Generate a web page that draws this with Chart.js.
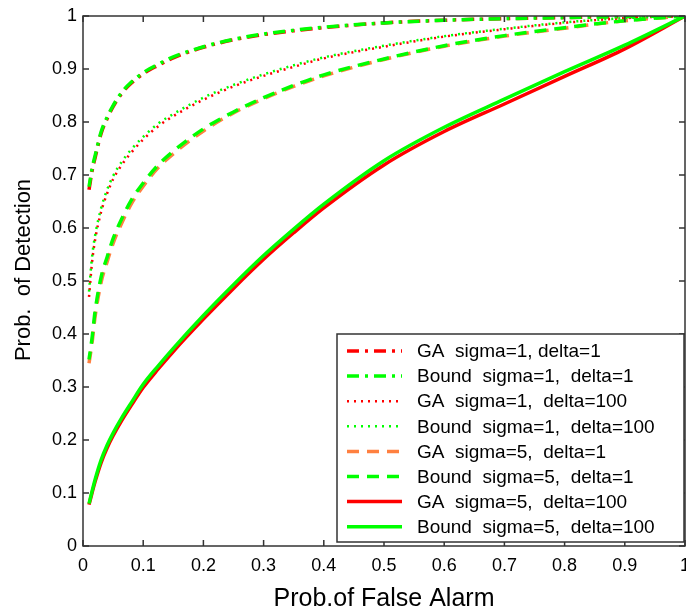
<!DOCTYPE html>
<html>
<head>
<meta charset="utf-8">
<script src="https://cdn.jsdelivr.net/npm/chart.js@4.4.0/dist/chart.umd.min.js"></script>
<style>
  html, body { margin: 0; padding: 0; background: #fff; }
  #wrap { width: 686px; height: 614px; }
</style>
</head>
<body>
<div id="wrap"><canvas id="roc" width="686" height="614"></canvas></div>
<script>
// Prob. of false alarm (x) shared by every curve
const falseAlarm = [0.01, 0.015, 0.02, 0.03, 0.04, 0.05, 0.065, 0.08, 0.1, 0.125, 0.15, 0.2, 0.25, 0.3, 0.35, 0.4, 0.5, 0.6, 0.7, 0.8, 0.9, 1.0];

// Prob. of detection
const gaS1D1     = [0.672, 0.707, 0.732, 0.778, 0.806, 0.829, 0.855, 0.873, 0.891, 0.907, 0.921, 0.941, 0.955, 0.965, 0.972, 0.978, 0.987, 0.992, 0.995, 0.997, 0.999, 1.0];
const boundS1D1  = [0.678, 0.712, 0.736, 0.781, 0.809, 0.831, 0.857, 0.875, 0.893, 0.909, 0.923, 0.942, 0.956, 0.966, 0.973, 0.979, 0.987, 0.992, 0.995, 0.997, 0.999, 1.0];
const gaS1D100   = [0.47, 0.535, 0.577, 0.63, 0.665, 0.692, 0.72, 0.742, 0.767, 0.792, 0.811, 0.842, 0.867, 0.887, 0.904, 0.92, 0.942, 0.961, 0.975, 0.987, 0.996, 1.0];
const boundS1D100= [0.48, 0.545, 0.585, 0.637, 0.672, 0.698, 0.726, 0.748, 0.772, 0.797, 0.815, 0.846, 0.870, 0.890, 0.907, 0.922, 0.944, 0.962, 0.976, 0.988, 0.996, 1.0];
const gaS5D1     = [0.345, 0.383, 0.432, 0.497, 0.536, 0.571, 0.611, 0.645, 0.679, 0.714, 0.740, 0.783, 0.817, 0.844, 0.867, 0.887, 0.918, 0.943, 0.962, 0.977, 0.991, 1.0];
const boundS5D1  = [0.352, 0.392, 0.442, 0.507, 0.545, 0.58, 0.619, 0.652, 0.685, 0.719, 0.745, 0.787, 0.819, 0.846, 0.869, 0.889, 0.919, 0.944, 0.963, 0.978, 0.991, 1.0];
const gaS5D100   = [0.078, 0.1, 0.121, 0.157, 0.185, 0.208, 0.238, 0.265, 0.299, 0.334, 0.367, 0.428, 0.486, 0.541, 0.591, 0.638, 0.719, 0.782, 0.834, 0.886, 0.938, 1.0];
const boundS5D100= [0.08, 0.103, 0.125, 0.162, 0.19, 0.213, 0.243, 0.27, 0.305, 0.34, 0.373, 0.435, 0.493, 0.548, 0.598, 0.645, 0.727, 0.79, 0.843, 0.895, 0.945, 1.0];

const seriesLabels = [
    "GA  sigma=1, delta=1",
    "Bound  sigma=1,  delta=1",
    "GA  sigma=1,  delta=100",
    "Bound  sigma=1,  delta=100",
    "GA  sigma=5,  delta=1",
    "Bound  sigma=5,  delta=1",
    "GA  sigma=5,  delta=100",
    "Bound  sigma=5,  delta=100",
];
const seriesValues = [gaS1D1, boundS1D1, gaS1D100, boundS1D100, gaS5D1, boundS5D1, gaS5D100, boundS5D100];

const xTicks = [0, 0.1, 0.2, 0.3, 0.4, 0.5, 0.6, 0.7, 0.8, 0.9, 1];
const yTicks = [0, 0.1, 0.2, 0.3, 0.4, 0.5, 0.6, 0.7, 0.8, 0.9, 1];

const RED = "#ff0000";
const GREEN = "#00ff00";
const ORANGE = "#ff8040";
const FONT = "'Liberation Sans', Arial, sans-serif";

// line styles per series (colour, width, dash)
const styles = [
    { color: RED,    width: 3.5, dash: [12, 6, 3, 6], offset: 0 },
    { color: GREEN,  width: 3.5, dash: [12, 6, 3, 6], offset: 3 },
    { color: RED,    width: 2.5, dash: [2, 5],        offset: 0 },
    { color: GREEN,  width: 2.5, dash: [2, 5],        offset: 0 },
    { color: ORANGE, width: 3.5, dash: [12, 8],       offset: 0 },
    { color: GREEN,  width: 3.5, dash: [12, 8],       offset: 4 },
    { color: RED,    width: 3.5, dash: [],            offset: 0 },
    { color: GREEN,  width: 3.5, dash: [],            offset: 0 },
];

function buildDatasets() {
    return seriesValues.map((vals, i) => ({
        label: seriesLabels[i],
        data: falseAlarm.map((fa, k) => ({ x: fa, y: vals[k] })),
        borderColor: styles[i].color,
        borderWidth: styles[i].width,
        borderDash: styles[i].dash,
        borderDashOffset: styles[i].offset,
        pointRadius: 0,
        fill: false,
        cubicInterpolationMode: "monotone",
        // Bound curves sit on top of GA curves
        order: i % 2 === 0 ? 2 : 1,
    }));
}

// matlab-like box, inward ticks, y title and boxed legend
const frameAndLegend = {
    id: "frameAndLegend",
    afterDraw(chart) {
        const ctx = chart.ctx;
        const area = chart.chartArea;
        const xs = chart.scales.x;
        const ys = chart.scales.y;
        const tl = 6;

        ctx.save();
        ctx.strokeStyle = "#333";
        ctx.lineWidth = 1.5;
        ctx.setLineDash([]);
        ctx.strokeRect(area.left, area.top, area.right - area.left, area.bottom - area.top);

        ctx.beginPath();
        xTicks.forEach(v => {
            const px = xs.getPixelForValue(v);
            ctx.moveTo(px, area.bottom); ctx.lineTo(px, area.bottom - tl);
            ctx.moveTo(px, area.top); ctx.lineTo(px, area.top + tl);
        });
        yTicks.forEach(v => {
            const py = ys.getPixelForValue(v);
            ctx.moveTo(area.left, py); ctx.lineTo(area.left + tl, py);
            ctx.moveTo(area.right, py); ctx.lineTo(area.right - tl, py);
        });
        ctx.stroke();

        // y axis title, a little above the middle as in the figure
        ctx.save();
        ctx.translate(24, 270);
        ctx.rotate(-Math.PI / 2);
        ctx.font = "22px " + FONT;
        ctx.fillStyle = "#000";
        ctx.textAlign = "center";
        ctx.textBaseline = "middle";
        ctx.fillText("Prob.  of Detection", 0, 0);
        ctx.restore();

        // legend box, bottom right inside the plot
        const boxL = 337, boxT = 334, boxR = area.right - 1, boxB = 542;
        ctx.fillStyle = "#fff";
        ctx.fillRect(boxL, boxT, boxR - boxL, boxB - boxT);
        ctx.strokeStyle = "#333";
        ctx.lineWidth = 1.5;
        ctx.strokeRect(boxL, boxT, boxR - boxL, boxB - boxT);

        ctx.font = "19px " + FONT;
        ctx.textBaseline = "middle";
        ctx.fillStyle = "#000";
        chart.data.datasets.forEach((ds, i) => {
            const y = 351 + i * 25.1;
            ctx.beginPath();
            ctx.strokeStyle = ds.borderColor;
            ctx.lineWidth = ds.borderWidth;
            ctx.setLineDash(ds.borderDash);
            ctx.lineDashOffset = 0;
            ctx.moveTo(347, y);
            ctx.lineTo(402, y);
            ctx.stroke();
            ctx.setLineDash([]);
            ctx.fillText(ds.label, 417, y + 1);
        });
        ctx.restore();
    },
};

new Chart(document.getElementById("roc"), {
    type: "line",
    data: { datasets: buildDatasets() },
    options: {
        responsive: false,
        animation: false,
        devicePixelRatio: 1,
        layout: { padding: { top: 16, right: 1, left: 0, bottom: 0 }, autoPadding: false },
        plugins: { legend: { display: false }, tooltip: { enabled: false } },
        scales: {
            x: {
                type: "linear",
                min: 0,
                max: 1,
                afterFit: (s) => { s.height = 68; s.paddingLeft = 0; s.paddingRight = 0; },
                afterBuildTicks: (s) => { s.ticks = xTicks.map(v => ({ value: v })); },
                grid: { display: false, drawTicks: false },
                border: { display: false },
                ticks: {
                    color: "#000",
                    padding: 9,
                    maxRotation: 0,
                    autoSkip: false,
                    font: { family: FONT, size: 18 },
                    callback: (v) => String(+v.toFixed(1)),
                },
                title: {
                    display: true,
                    text: "Prob.of False Alarm",
                    color: "#000",
                    padding: { top: 0, bottom: 0 },
                    font: { family: FONT, size: 25 },
                },
            },
            y: {
                type: "linear",
                min: 0,
                max: 1,
                afterFit: (s) => { s.width = 83; s.paddingTop = 0; s.paddingBottom = 0; },
                afterBuildTicks: (s) => { s.ticks = yTicks.map(v => ({ value: v })); },
                grid: { display: false, drawTicks: false },
                border: { display: false },
                ticks: {
                    color: "#000",
                    padding: 6,
                    autoSkip: false,
                    font: { family: FONT, size: 18 },
                    callback: (v) => String(+v.toFixed(1)),
                },
            },
        },
    },
    plugins: [frameAndLegend],
});
</script>
</body>
</html>
